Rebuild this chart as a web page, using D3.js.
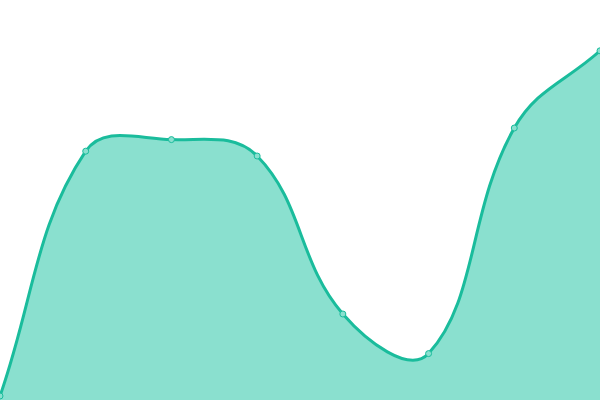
<!DOCTYPE html>
<html>
<head>
<meta charset="utf-8">
<script src="https://cdn.jsdelivr.net/npm/d3@7"></script>
<style>
  body { margin: 0; background: #fff; }
</style>
</head>
<body>
<div id="chart"></div>
<script>
// data
var labels = ["A", "B", "C", "D", "E", "F", "G", "H"];
var values = [1, 62.2, 65.1, 61, 21.5, 11.6, 68, 87.3];

var width = 600, height = 400;

// spline with distance-weighted control points (tension 0.4)
function splineCurve(context) { return new Spline(context); }
function Spline(context) { this._context = context; }
Spline.prototype = {
  areaStart: function() { this._line = 0; },
  areaEnd: function() { this._line = NaN; },
  lineStart: function() { this._x = []; this._y = []; },
  point: function(x, y) { this._x.push(+x); this._y.push(+y); },
  lineEnd: function() {
    var xs = this._x, ys = this._y, n = xs.length, c = this._context, t = 0.4, i;
    if (n) {
      this._line ? c.lineTo(xs[0], ys[0]) : c.moveTo(xs[0], ys[0]);
      var cp = [];
      for (i = 0; i < n; i++) {
        var p = Math.max(i - 1, 0), q = Math.min(i + 1, n - 1);
        var d01 = Math.hypot(xs[i] - xs[p], ys[i] - ys[p]);
        var d12 = Math.hypot(xs[q] - xs[i], ys[q] - ys[i]);
        var s = d01 + d12;
        var fa = s ? t * d01 / s : 0, fb = s ? t * d12 / s : 0;
        var dx = xs[q] - xs[p], dy = ys[q] - ys[p];
        cp.push({px: xs[i] - fa * dx, py: ys[i] - fa * dy,
                 nx: xs[i] + fb * dx, ny: ys[i] + fb * dy});
      }
      for (i = 1; i < n; i++) {
        c.bezierCurveTo(cp[i-1].nx, cp[i-1].ny, cp[i].px, cp[i].py, xs[i], ys[i]);
      }
    }
    if (this._line || (this._line !== 0 && n === 1)) c.closePath();
    this._line = 1 - this._line;
  }
};

var svg = d3.select("#chart")
  .append("svg")
    .attr("width", width)
    .attr("height", height);

var x = d3.scalePoint()
    .domain(labels)
    .range([0, width]);

var y = d3.scaleLinear()
    .domain([0, 100])
    .range([height, 0]);

var data = labels.map(function(l, i) { return {label: l, value: values[i]}; });

var area = d3.area()
    .x(function(d) { return x(d.label); })
    .y0(height)
    .y1(function(d) { return y(d.value); })
    .curve(splineCurve);

var line = d3.line()
    .x(function(d) { return x(d.label); })
    .y(function(d) { return y(d.value); })
    .curve(splineCurve);

svg.append("path")
    .datum(data)
    .attr("d", area)
    .attr("fill", "#8ae0cf");

svg.append("path")
    .datum(data)
    .attr("d", line)
    .attr("fill", "none")
    .attr("stroke", "#1abc9c")
    .attr("stroke-width", 3);

svg.selectAll("circle.pt")
    .data(data)
  .enter().append("circle")
    .attr("class", "pt")
    .attr("cx", function(d) { return x(d.label); })
    .attr("cy", function(d) { return y(d.value); })
    .attr("r", 3)
    .attr("fill", "#8ae0cf")
    .attr("stroke", "#1abc9c")
    .attr("stroke-width", 1);
</script>
</body>
</html>
